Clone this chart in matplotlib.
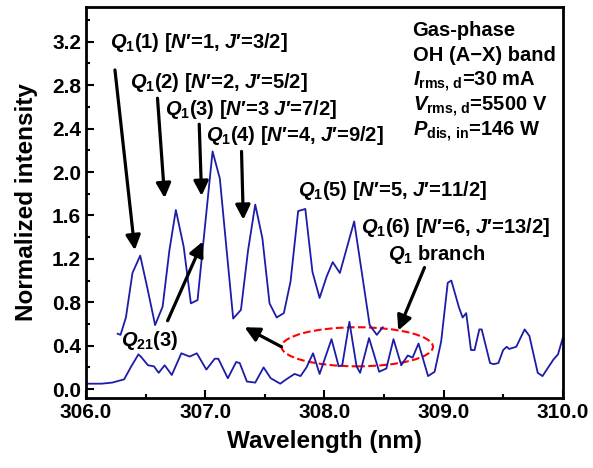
import numpy as np
from matplotlib import pyplot as plt
from matplotlib.patches import Ellipse
from matplotlib.ticker import MultipleLocator

plt.rcParams['font.family'] = ['Liberation Sans', 'DejaVu Sans']
plt.rcParams['font.weight'] = 'bold'
plt.rcParams['mathtext.fontset'] = 'custom'
plt.rcParams['mathtext.rm'] = 'Liberation Sans:bold'
plt.rcParams['mathtext.it'] = 'Liberation Sans:italic:bold'
plt.rcParams['mathtext.bf'] = 'Liberation Sans:bold'

# upper trace (Q1 branch lines)
upper_wl = [306.266, 306.29, 306.335, 306.39, 306.455, 306.517, 306.58, 306.643,
            306.70, 306.754, 306.82, 306.88, 306.936, 306.978, 307.062, 307.123,
            307.18, 307.235, 307.30, 307.36, 307.42, 307.48, 307.54, 307.60,
            307.66, 307.716, 307.78, 307.84, 307.90, 307.96, 308.02, 308.07,
            308.13, 308.25, 308.38, 308.44, 308.49]
upper_val = [0.51, 0.50, 0.66, 1.07, 1.23, 0.92, 0.59, 0.76,
             1.28, 1.65, 1.31, 0.79, 0.82, 1.28, 2.19, 1.94,
             1.28, 0.65, 0.73, 1.28, 1.70, 1.39, 0.79, 0.66,
             0.70, 0.99, 1.64, 1.66, 1.08, 0.84, 1.04, 1.17,
             1.07, 1.545, 0.59, 0.50, 0.57]

# lower trace (full range)
lower_wl = [306.00, 306.06, 306.13, 306.22, 306.32, 306.38, 306.44, 306.46,
            306.52, 306.57, 306.61, 306.66, 306.72, 306.80, 306.87, 306.93,
            307.01, 307.08, 307.11, 307.19, 307.26, 307.29, 307.35, 307.42,
            307.49, 307.55, 307.63, 307.68, 307.75, 307.80, 307.85, 307.905,
            307.96, 308.06, 308.12, 308.15, 308.21, 308.27, 308.30, 308.375,
            308.46, 308.52, 308.58, 308.645, 308.70, 308.74, 308.79, 308.87,
            308.925, 308.98, 309.035, 309.065, 309.13, 309.16, 309.19, 309.23,
            309.26, 309.30, 309.32, 309.39, 309.42, 309.46, 309.50, 309.53,
            309.55, 309.61, 309.68, 309.72, 309.79, 309.83, 309.92, 309.96,
            310.00]
lower_val = [0.05, 0.05, 0.05, 0.06, 0.09, 0.21, 0.32, 0.30,
             0.22, 0.21, 0.15, 0.22, 0.13, 0.33, 0.30, 0.33,
             0.18, 0.28, 0.28, 0.10, 0.25, 0.24, 0.07, 0.06,
             0.20, 0.10, 0.05, 0.09, 0.14, 0.12, 0.20, 0.33,
             0.14, 0.46, 0.21, 0.22, 0.62, 0.21, 0.15, 0.47,
             0.16, 0.19, 0.46, 0.22, 0.31, 0.29, 0.42, 0.12,
             0.16, 0.44, 0.98, 1.00, 0.75, 0.66, 0.70, 0.36,
             0.36, 0.55, 0.55, 0.24, 0.23, 0.24, 0.36, 0.39,
             0.37, 0.39, 0.55, 0.49, 0.15, 0.12, 0.27, 0.32,
             0.47]

info_lines = ["Gas-phase", "OH (A\u2212X) band",
              r"$I_{\rm rms,\,d}$=30 mA",
              r"$V_{\rm rms,\,d}$=5500 V",
              r"$P_{\rm dis,\,in}$=146 W"]

fig = plt.figure(figsize=(5.93, 4.68), dpi=100)
ax = fig.add_axes([0.145, 0.15, 0.804, 0.835])

col = '#1c1ca8'
ax.plot(upper_wl, upper_val, color=col, lw=1.3)
ax.plot(lower_wl, lower_val, color=col, lw=1.3)

ax.set_xlim(306, 310)
ax.set_ylim(-0.08, 3.52)
ax.xaxis.set_major_locator(MultipleLocator(1.0))
ax.xaxis.set_minor_locator(MultipleLocator(0.5))
ax.yaxis.set_major_locator(MultipleLocator(0.4))
ax.yaxis.set_minor_locator(MultipleLocator(0.2))
ax.xaxis.set_major_formatter(lambda v, p: f"{v:.1f}")
ax.yaxis.set_major_formatter(lambda v, p: f"{v:.1f}")
ax.tick_params(which='both', direction='in', width=1.5, labelsize=15)
ax.tick_params(which='major', length=6)
ax.tick_params(which='minor', length=3)
for s in ax.spines.values():
    s.set_linewidth(2)

ax.set_xlabel("Wavelength (nm)", fontsize=17.5, fontweight='bold', labelpad=6)
ax.set_ylabel("Normalized intensity", fontsize=17.5, fontweight='bold', labelpad=10)

fs = 14.5
lbls = [(306.20, 3.145, r"$Q_1$(1) [$N$′=1, $J$′=3/2]"),
        (306.37, 2.776, r"$Q_1$(2) [$N$′=2, $J$′=5/2]"),
        (306.66, 2.528, r"$Q_1$(3) [$N$′=3 $J$′=7/2]"),
        (307.01, 2.282, r"$Q_1$(4) [$N$′=4, $J$′=9/2]"),
        (307.78, 1.775, r"$Q_1$(5) [$N$′=5, $J$′=11/2]"),
        (308.31, 1.438, r"$Q_1$(6) [$N$′=6, $J$′=13/2]"),
        (308.53, 1.19, r"$Q_1$ branch"),
        (306.29, 0.394, r"$Q_{21}$(3)")]
for x, y, t in lbls:
    ax.text(x, y, t, fontsize=fs, fontweight='bold', va='baseline', ha='left')

for i, t in enumerate(info_lines):
    ax.text(308.74, 3.249 - i * 0.23, t, fontsize=fs, fontweight='bold',
            va='baseline', ha='left')

arrows = [((306.243, 2.94), (306.41, 1.28)),
          ((306.60, 2.68), (306.66, 1.76)),
          ((306.95, 2.44), (306.97, 1.78)),
          ((307.305, 2.19), (307.32, 1.56)),
          ((306.685, 0.63), (306.98, 1.36)),
          ((308.84, 1.12), (308.62, 0.54)),
          ((307.64, 0.39), (307.33, 0.57))]
for tail, tip in arrows:
    ax.annotate("", xy=tip, xytext=tail,
                arrowprops=dict(arrowstyle='-|>', color='k', lw=2.3,
                                mutation_scale=22, shrinkA=0, shrinkB=0))

ax.add_patch(Ellipse((308.276, 0.39), 1.27, 0.36, fill=False,
                     edgecolor='red', ls='--', lw=1.5))

fig.savefig("out.png", dpi=100)
